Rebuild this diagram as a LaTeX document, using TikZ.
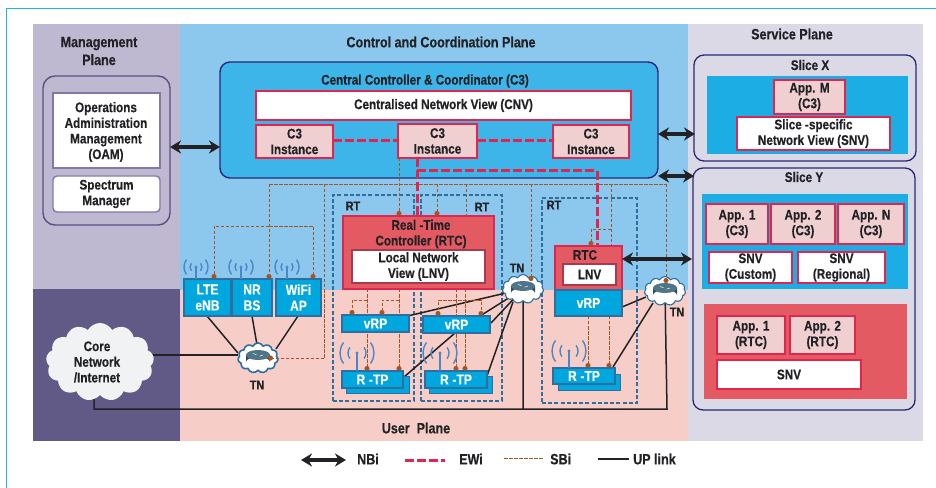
\documentclass[tikz,border=0pt]{standalone}
\usepackage{fontspec}
\setmainfont{Liberation Sans}[FakeStretch=0.84,BoldFeatures={FakeBold=0.3}]
\usetikzlibrary{arrows.meta,shapes.symbols,calc}
\pgfdeclarelayer{bg}\pgfdeclarelayer{conn}\pgfdeclarelayer{top}
\pgfsetlayers{bg,conn,main,top}
\definecolor{cyanline}{HTML}{1DB4E8}
\definecolor{mgmt}{HTML}{BEB9D0}
\definecolor{mgmtdk}{HTML}{615A87}
\definecolor{ctrl}{HTML}{8CC8EE}
\definecolor{userp}{HTML}{F6CEC7}
\definecolor{serv}{HTML}{DCD9E7}
\definecolor{cbox}{HTML}{3DB5E8}
\definecolor{navy}{HTML}{232A78}
\definecolor{crim}{HTML}{E0264F}
\definecolor{pinkb}{HTML}{EFCFD0}
\definecolor{redb}{HTML}{E35A62}
\definecolor{blueb}{HTML}{00A6DE}
\definecolor{sliceb}{HTML}{1CADE4}
\definecolor{blueln}{HTML}{2F6E9E}
\definecolor{sbc}{HTML}{A5551F}
\definecolor{ink}{HTML}{222226}
\definecolor{antc}{HTML}{4A86C8}
\definecolor{purp}{HTML}{5B4F86}
\definecolor{purl}{HTML}{8378A8}
\definecolor{corec}{HTML}{F1F2F4}
\definecolor{rside}{HTML}{2B4A5A}
\definecolor{rtop}{HTML}{4F7587}
\definecolor{lnvln}{HTML}{A83A50}
\newcommand{\fa}{\bfseries\fontsize{15}{18}\selectfont}
\newcommand{\fb}{\bfseries\fontsize{14}{15.7}\selectfont}
\newcommand{\fc}{\bfseries\fontsize{14.5}{16}\selectfont}
\newcommand{\fd}{\bfseries\fontsize{13}{15}\selectfont}
\newcommand{\rtp}{R\hspace{.25em}-TP}
\tikzset{
  boxbase/.style={inner sep=0pt,outer sep=0pt,align=center,text=ink,font=\fb},
  pinkbox/.style={boxbase,draw=crim,fill=pinkb,line width=1.5bp},
  whitebox/.style={boxbase,draw=crim,fill=white,line width=1.5bp},
  bluebox/.style={boxbase,draw=blueln,fill=blueb,line width=1.3bp,text=white,font=\fc},
  rtbox/.style={boxbase,draw=blueln,dashed,dash pattern=on 4bp off 2.2bp,line width=1.2bp},
  nbi/.style={{Stealth[length=11bp,width=13bp]}-{Stealth[length=11bp,width=13bp]},line width=3.2bp,draw=ink},
  ewi/.style={draw=crim,line width=3bp,dash pattern=on 9bp off 3bp},
  sbi/.style={draw=sbc,line width=.9bp,dash pattern=on 3.5bp off 1.5bp},
  sbidot/.style={sbi,-{Circle[length=5bp,width=5bp,sep=0pt]}},
  uplink/.style={draw=ink,line width=1.5bp},
  tnc/.style={cloud,cloud puffs=11,cloud puff arc=125,aspect=1.4,draw=blueln,fill=white,line width=1.1bp,inner sep=0pt,outer sep=0pt},
  lbl/.style={inner sep=0pt,align=center,text=ink,font=\fa},
  rtl/.style={inner sep=0pt,text=ink,font=\fd}
}
\newcommand{\bx}[7]{%
  \pgfmathsetmacro\cxv{(#3+#5)/2}\pgfmathsetmacro\cyv{(#4+#6)/2}%
  \pgfmathsetmacro\bwv{#5-#3}\pgfmathsetmacro\bhv{#6-#4}%
  \node[#2,minimum width=\bwv bp,minimum height=\bhv bp] (#1) at (\cxv,\cyv) {#7};}
\newcommand{\ant}[5]{% x, cy, r1, r2, box top
  \draw[antc,line width=1.4bp] (#1,#2) -- (#1,#5);
  \fill[antc] (#1,#2) circle (1.7);
  \foreach \rr in {#3,#4}{
    \draw[antc,line width=1.4bp] (#1,#2) ++(-38:\rr) arc[start angle=-38,end angle=38,radius=\rr];
    \draw[antc,line width=1.4bp] (#1,#2) ++(142:\rr) arc[start angle=142,end angle=218,radius=\rr];}
}
\newcommand{\router}[1]{%
  \fill[rside] (#1) ++(-12,-3) -- ++(0,7) arc[start angle=180,end angle=360,x radius=12,y radius=5] -- ++(0,-7) -- cycle;
  \fill[rtop] (#1) ++(0,-3) ellipse (12 and 5);
  \draw[white,line width=.5bp] (#1) ++(-5,-4.5) -- ++(3.5,1.2) (#1) ++(5,-3) -- ++(-3.5,1.2);}
\begin{document}
\begin{tikzpicture}[x=1bp,y=-1bp]
\useasboundingbox (0,0) rectangle (936,488);
\begin{pgfonlayer}{bg}
\fill[white] (0,0) rectangle (936,488);
\draw[cyanline,line width=1bp] (936,8.5) -- (6.5,8.5) -- (6.5,488);
\fill[mgmt] (33,24) rectangle (180,289);
\fill[mgmtdk] (33,289) rectangle (180,441);
\fill[ctrl] (180,24) rectangle (688,290);
\fill[userp] (180,290) rectangle (688,441);
\fill[serv] (688,24) rectangle (923,441);
\bx{oamouter}{boxbase,draw=purp,line width=1.4bp,rounded corners=12bp}{43}{76}{170}{225}{}
\bx{c3}{boxbase,draw=navy,fill=cbox,line width=1.4bp,rounded corners=10bp}{220}{62}{658}{178}{}
\bx{rt1}{rtbox}{333}{195}{414}{401}{}
\bx{rt2}{rtbox}{421}{195}{502}{401}{}
\bx{rt3}{rtbox}{542}{198}{637}{403}{}
\bx{slx}{boxbase,draw=navy,line width=1.3bp,rounded corners=10bp}{694}{55}{916}{161}{}
\bx{sly}{boxbase,draw=navy,line width=1.3bp,rounded corners=10bp}{693}{168}{915}{410}{}
\fill[sliceb] (707,76) rectangle (908,154);
\fill[sliceb] (702,194) rectangle (908,289);
\fill[redb] (704,304) rectangle (907,399);
\end{pgfonlayer}

% plane titles
\node[lbl] (tm) at (99,51) {Management\\Plane};
\node[lbl] (tc) at (441,42) {Control and Coordination Plane};
\node[lbl] (ts) at (792,34) {Service Plane};
\node[lbl] (tu) at (416,428) {User\ \ Plane};

% management
\bx{oam}{boxbase,draw=purl,fill=white,line width=1.4bp}{53}{93}{160}{168}{}
\node[lbl,font=\fb] (oamt) at (106,132) {Operations\\Administration\\Management\\(OAM)};
\bx{spec}{boxbase,draw=purl,fill=white,line width=1.4bp,rounded corners=4bp}{53}{176}{160}{212}{Spectrum\\Manager}

% C3
\node[lbl,font=\fb] (c3t) at (425,81) {Central Controller \& Coordinator (C3)};
\bx{cnv}{whitebox}{256}{91}{631}{120}{Centralised Network View (CNV)}
\bx{ci1}{pinkbox}{256}{125}{333}{158}{C3\\Instance}
\bx{ci2}{pinkbox}{398}{124}{477}{158}{C3\\Instance}
\bx{ci3}{pinkbox}{553}{125}{629}{158}{C3\\Instance}

% RTC big
\bx{rtc}{boxbase,draw=crim,fill=redb,line width=2bp}{343}{216}{494}{289}{}
\node[lbl,font=\fb] (rtct) at (421,234) {Real -Time\\Controller (RTC)};
\bx{lnv}{boxbase,draw=lnvln,fill=white,line width=1.3bp}{352}{250}{485}{283}{Local Network\\View (LNV)}
\bx{vrp1}{bluebox}{342}{315}{409}{332}{vRP}
\bx{vrp2}{bluebox}{423}{316}{490}{333}{vRP}
\bx{rtps1}{boxbase,draw=blueln,fill=blueb,line width=1bp}{346}{376}{409}{393}{}
\bx{rtp1}{bluebox}{342}{371}{403}{388}{\rtp}
\bx{rtps2}{boxbase,draw=blueln,fill=blueb,line width=1bp}{429}{376}{492}{393}{}
\bx{rtp2}{bluebox}{425}{371}{487}{388}{\rtp}

% access
\bx{lte}{bluebox}{184}{279}{231}{316}{LTE\\eNB}
\bx{nr}{bluebox}{232}{279}{272}{316}{NR\\BS}
\bx{wifi}{bluebox}{276}{279}{321}{316}{WiFi\\AP}

% RTC small
\bx{rtc3}{boxbase,draw=crim,fill=redb,line width=1.6bp}{555}{246}{622}{290}{}
\node[lbl,font=\fb] (rtc3t) at (585,255) {RTC};
\bx{lnv3}{boxbase,draw=lnvln,fill=white,line width=1.3bp}{563}{264}{616}{285}{LNV}
\bx{vrp3}{bluebox}{555}{290}{622}{316}{vRP}
\bx{rtps3}{boxbase,draw=blueln,fill=blueb,line width=1bp}{558}{374}{620}{390}{}
\bx{rtp3}{bluebox}{553}{368}{615}{384}{\rtp}

% antennas
\ant{196}{267}{6}{12}{279}
\ant{241}{267}{6}{12}{279}
\ant{287}{267}{6}{12}{279}
\ant{357}{353}{9}{17}{371}
\ant{440}{353}{9}{17}{371}
\ant{569}{351}{9}{17}{368}

% clouds
\node[cloud,cloud puffs=13,cloud puff arc=120,aspect=1.35,fill=corec,minimum width=108bp,minimum height=78bp,inner sep=0pt,outer sep=0pt] (core) at (100,362) {};
\node[lbl,font=\fb] (coret) at (97,362) {Core\\Network\\/Internet};
\node[tnc,line width=1.6bp,minimum width=40bp,minimum height=30bp] (tn1) at (258,358) {};
\node[tnc,minimum width=41bp,minimum height=29bp] (tn2) at (523,289) {};
\node[tnc,minimum width=41bp,minimum height=29bp] (tn3) at (665,291) {};
\router{tn1}
\router{tn2}
\router{tn3}
\node[rtl] (tn1t) at (257,385) {TN};
\node[rtl] (tn2t) at (517,268) {TN};
\node[rtl] (tn3t) at (677,312) {TN};
\node[rtl] (rt1t) at (353,206) {RT};
\node[rtl] (rt2t) at (482,207) {RT};
\node[rtl] (rt3t) at (554,205) {RT};

% service
\node[lbl,font=\fb] (sxt) at (810,65) {Slice X};
\bx{appm}{pinkbox}{774}{80}{845}{114}{App. M\\(C3)}
\bx{snvx}{whitebox}{737}{117}{890}{150}{Slice -specific\\Network View (SNV)}
\node[lbl,font=\fb] (syt) at (804,177) {Slice Y};
\bx{a1}{pinkbox}{706}{204}{768}{244}{App. 1\\(C3)}
\bx{a2}{pinkbox}{771}{204}{835}{244}{App. 2\\(C3)}
\bx{an}{pinkbox}{838}{204}{904}{244}{App. N\\(C3)}
\bx{snvc}{whitebox}{709}{252}{792}{283}{SNV\\(Custom)}
\bx{snvr}{whitebox}{798}{252}{885}{283}{SNV\\(Regional)}
\bx{r1}{pinkbox}{717}{316}{785}{354}{App. 1\\(RTC)}
\bx{r2}{pinkbox}{790}{316}{855}{354}{App. 2\\(RTC)}
\bx{snvb}{whitebox}{717}{360}{861}{389}{SNV}

% named junctions
\coordinate (busa) at (269,184);
\coordinate (busb) at (324,184);
\coordinate (busc) at (399,184);
\coordinate (busd) at (437,184);
\coordinate (buse) at (466,184);
\coordinate (busf) at (531,184);
\coordinate (busg) at (611,184);
\coordinate (bush) at (666,184);
\coordinate (acca) at (214,226);
\coordinate (accb) at (269,226);
\coordinate (accc) at (313,226);
\coordinate (hopa) at (324,358);
\coordinate (dota) at (268,358);
\coordinate (dotb) at (531,281);
\coordinate (dotc) at (666,283);
\coordinate (lx1) at (367,300);
\coordinate (lx2) at (352,300);
\coordinate (lx3) at (399,300);
\coordinate (lx4) at (382,300);
\coordinate (lx5) at (438,300);
\coordinate (lx6) at (481,300);
\coordinate (lx7) at (456,300);
\coordinate (lx8) at (465,300);
\coordinate (sa) at (591,229);
\coordinate (sb) at (611,229);
\coordinate (sc) at (588,316);
\coordinate (sd) at (609,316);
\coordinate (ew1) at (417,171);
\coordinate (ew2) at (597,171);
\coordinate (ewy) at (0,141);
\coordinate (nby) at (0,147);
\coordinate (up1) at (94,409);
\coordinate (up2) at (523,409);
\coordinate (up3) at (667,409);
\coordinate (corea) at (94,393);
\coordinate (corer) at (152,355);
\coordinate (tn1w) at (238,355);
\coordinate (lteb) at (207,316);
\coordinate (tn1a) at (238,353);
\coordinate (nrb) at (252,316);
\coordinate (tn1b) at (257,345);
\coordinate (wifb) at (298,316);
\coordinate (tn1c) at (276,349);
\coordinate (v2a) at (480,316);
\coordinate (v2b) at (491,323);
\coordinate (rp2e) at (487,376);
\coordinate (tn2s) at (513,302);
\coordinate (rp1e) at (404,377);
\coordinate (v2s) at (455,333);
\coordinate (v3e) at (622,307);
\coordinate (tn3a) at (646,297);
\coordinate (rp3e) at (613,367);
\coordinate (tn3b) at (653,303);
\coordinate (arl) at (658,134);
\coordinate (arr) at (695,134);
\coordinate (brl) at (658,176);
\coordinate (brr) at (694,176);
\coordinate (crl) at (622,259);
\coordinate (crr) at (692,259);

\begin{pgfonlayer}{conn}
% UP links
\draw[uplink] (lteb) -- (tn1a);
\draw[uplink] (nrb) -- (tn1b);
\draw[uplink] (wifb) -- (tn1c);
\draw[uplink] (corer) -- (tn1w);
\draw[uplink] (corea) -- (up1) -- (up3) -- (tn3);
\draw[uplink] (up2) -- (tn2);
\draw[uplink] (vrp1) -- (tn2);
\draw[uplink] (v2a) -- (tn2);
\draw[uplink] (v2b) -- (tn2);
\draw[uplink] (rp2e) -- (tn2s);
\draw[uplink] (rp1e) -- (v2s);
\draw[uplink] (v3e) -- (tn3a);
\draw[uplink] (rp3e) -- (tn3b);
% SBi
\draw[sbi] (busa) -- (bush);
\draw[sbidot] (busa) -- (nr.north -| busa);
\draw[sbidot] (accb) -| (lte.north -| acca);
\draw[sbidot] (accb) -| (wifi.north -| accc);
\draw[sbi] (busb) -- (hopa);
\draw[sbidot] (ci2.south -| busc) -- (rtc.north -| busc);
\draw[sbidot] (busd) -- (rtc.north -| busd);
\draw[sbi] (buse) -- (rtc.north -| buse);
\draw[sbi] (busg) -- (rtc3.north -| busg);
\draw[sbidot] (sb) -- (sa) -- (rtc3.north -| sa);
\draw[sbidot] (rtc.south -| lx1) -- (rtp1.north -| lx1);
\draw[sbidot] (rtc.south -| lx3) -- (rtp1.north -| lx3);
\draw[sbidot] (lx1) -- (lx2) -- (vrp1.north -| lx2);
\draw[sbidot] (lx3) -- (lx4) -- (vrp1.north -| lx4);
\draw[sbidot] (rtc.south -| lx7) -- (rtp2.north -| lx7);
\draw[sbidot] (rtc.south -| lx8) -- (rtp2.north -| lx8);
\draw[sbidot] (lx5) -- (lx6) -- (vrp2.north -| lx6);
\draw[sbidot] (lx6) -- (lx5) -- (vrp2.north -| lx5);
\draw[sbidot] (sc) -- (rtp3.north -| sc);
\draw[sbidot] (sd) -- (rtp3.north -| sd);
% EWi
\draw[ewi] (ci1.east |- ewy) -- (ci2.west |- ewy);
\draw[ewi] (ci2.east |- ewy) -- (ci3.west |- ewy);
\draw[ewi] (ci2.south -| ew1) -- (rtc.north -| ew1);
\draw[ewi] (ew1) -- (ew2) -- (rtc3.north -| ew2);
\end{pgfonlayer}

\begin{pgfonlayer}{top}
\draw[sbidot] (busf) -- (dotb);
\draw[sbidot] (bush) -- (dotc);
\draw[sbidot] (hopa) -- (dota);
\draw[nbi] (oamouter.east |- nby) -- (c3.west |- nby);
\draw[nbi] (arl) -- (arr);
\draw[nbi] (brl) -- (brr);
\draw[nbi] (crl) -- (crr);
\end{pgfonlayer}

% legend
\coordinate (l1a) at (301,460); \coordinate (l1b) at (346,460);
\coordinate (l2a) at (405,460); \coordinate (l2b) at (445,460);
\coordinate (l3a) at (504,458); \coordinate (l3b) at (543,458);
\coordinate (l4a) at (598,459); \coordinate (l4b) at (629,459);
\draw[nbi] (l1a) -- (l1b);
\draw[ewi] (l2a) -- (l2b);
\draw[sbi] (l3a) -- (l3b);
\draw[uplink] (l4a) -- (l4b);
\node[rtl,font=\fa,anchor=west] (ln) at (357,459) {NBi};
\node[rtl,font=\fa,anchor=west] (le) at (459,459) {EWi};
\node[rtl,font=\fa,anchor=west] (ls) at (550,459) {SBi};
\node[rtl,font=\fa,anchor=west] (lu) at (633,459) {UP link};
\end{tikzpicture}
\end{document}
